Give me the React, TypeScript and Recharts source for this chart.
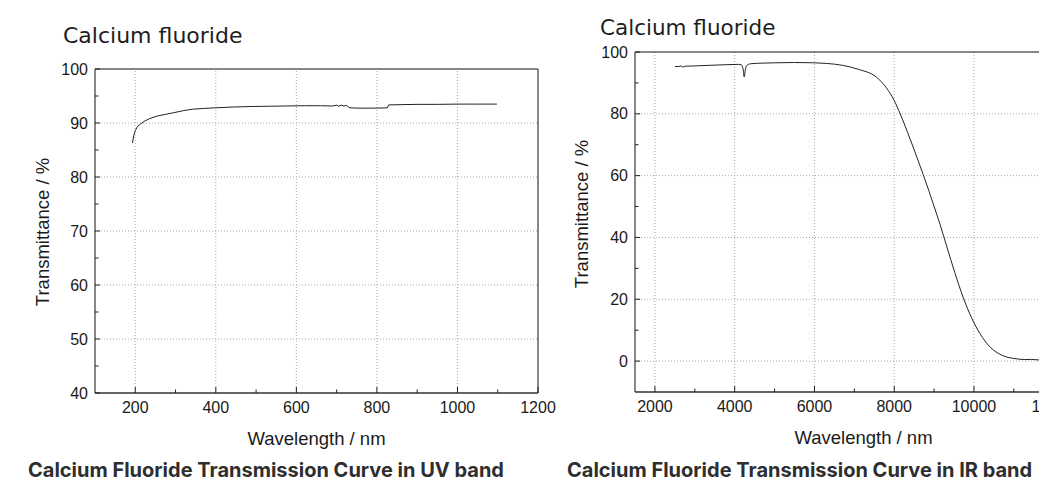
import React from 'react';
import { LineChart, Line, XAxis, YAxis, ReferenceLine } from 'recharts';

// ---------- UV band data ----------
const uvWavelength = [193, 196, 200, 206, 213, 222, 235, 255, 275, 295, 320, 342, 370, 396, 440, 485, 530, 574, 620, 660, 690, 700, 705, 712, 718, 724, 729, 733, 760, 790, 826, 829, 860, 900, 950, 1000, 1050, 1098];
const uvTransmittance = [86.3, 87.6, 88.6, 89.4, 89.8, 90.3, 90.8, 91.3, 91.6, 91.9, 92.3, 92.55, 92.7, 92.8, 92.95, 93.05, 93.1, 93.15, 93.2, 93.2, 93.15, 93.3, 93.1, 93.3, 93.15, 93.25, 93.0, 92.8, 92.75, 92.75, 92.8, 93.35, 93.4, 93.45, 93.45, 93.5, 93.5, 93.5];
const uvXMajor = [200, 400, 600, 800, 1000, 1200];
const uvXMinor = [300, 500, 700, 900, 1100];
const uvYMajor = [40, 50, 60, 70, 80, 90, 100];
const uvYMinor = [45, 55, 65, 75, 85, 95];
const uvGridX = [200, 400, 600, 800, 1000];
const uvGridY = [50, 60, 70, 80, 90];

// ---------- IR band data ----------
const irWavelength = [2500, 2600, 2660, 2700, 2760, 3000, 3400, 3800, 4100, 4170, 4210, 4240, 4265, 4300, 4400, 4700, 5000, 5500, 6000, 6300, 6700, 7100, 7550, 7800, 8000, 8150, 8400, 8650, 8770, 8980, 9150, 9315, 9520, 9730, 9940, 10150, 10400, 10700, 11000, 11150, 11300, 11450, 11600, 11800, 12000];
const irTransmittance = [95.3, 95.3, 95.5, 95.1, 95.4, 95.5, 95.7, 95.9, 96.0, 95.8, 94.5, 91.9, 94.2, 95.6, 96.2, 96.4, 96.5, 96.6, 96.5, 96.3, 95.7, 94.4, 91.9, 88.5, 84.3, 80.0, 71.8, 63.1, 58.8, 50.8, 44.2, 37.2, 28.6, 20.6, 14.0, 8.9, 4.6, 1.9, 0.85, 0.6, 0.5, 0.55, 0.4, 0.4, 0.4];
const irXMajor = [2000, 4000, 6000, 8000, 10000, 12000];
const irXMinor = [3000, 5000, 7000, 9000, 11000];
const irYMajor = [0, 20, 40, 60, 80, 100];
const irYMinor = [10, 30, 50, 70, 90];
const irGridX = [2000, 4000, 6000, 8000, 10000, 12000];
const irGridY = [0, 20, 40, 60, 80];

const chartTitle = 'Calcium fluoride';
const xTitle = 'Wavelength / nm';
const yTitle = 'Transmittance / %';
const uvCaption = 'Calcium Fluoride Transmission Curve in UV band';
const irCaption = 'Calcium Fluoride Transmission Curve in IR band';

const uvData = uvWavelength.map((w, i) => ({ w, t: uvTransmittance[i] }));
const irData = irWavelength.map((w, i) => ({ w, t: irTransmittance[i] }));

const TICK_FONT = '"Liberation Sans", Arial, sans-serif';
const TICK_COLOR = '#1a1a1a';
const GRID_COLOR = '#a8a8a8';

const makeXTick = (majors: number[]) => (props: any) => {
  const { x, y, payload } = props;
  const isMajor = majors.includes(payload.value);
  return (
    <g>
      <line x1={x} x2={x} y1={y} y2={y - (isMajor ? 6 : 3.5)} stroke="#222" strokeWidth={1} />
      {isMajor && (
        <text x={x} y={y + 9} dy="0.71em" textAnchor="middle" fontFamily={TICK_FONT} fontSize={16} fill={TICK_COLOR}>
          {payload.value}
        </text>
      )}
    </g>
  );
};

const makeYTick = (majors: number[]) => (props: any) => {
  const { x, y, payload } = props;
  const isMajor = majors.includes(payload.value);
  return (
    <g>
      <line x1={x} x2={x + (isMajor ? 5 : 3.5)} y1={y} y2={y} stroke="#222" strokeWidth={1} />
      {isMajor && (
        <text x={x - 7} y={y} dy="0.355em" textAnchor="end" fontFamily={TICK_FONT} fontSize={16} fill={TICK_COLOR}>
          {payload.value}
        </text>
      )}
    </g>
  );
};

const gridLines = (xs: number[], ys: number[]) => [
  ...xs.map((v) => (
    <ReferenceLine key={'gx' + v} x={v} stroke={GRID_COLOR} strokeDasharray="1 2" strokeWidth={1} />
  )),
  ...ys.map((v) => (
    <ReferenceLine key={'gy' + v} y={v} stroke={GRID_COLOR} strokeDasharray="1 2" strokeWidth={1} />
  )),
];

export default function App() {
  return (
    <div style={{ position: 'absolute', left: 0, top: 0, width: 1059, height: 498, background: '#fff', overflow: 'hidden' }}>
      {/* UV chart */}
      <div style={{ position: 'absolute', left: 0, top: 0 }}>
        <LineChart width={560} height={423} data={uvData} margin={{ top: 69, right: 22, bottom: 0, left: 0 }}>
          {gridLines(uvGridX, uvGridY)}
          <ReferenceLine y={100} stroke="#111" strokeWidth={1} />
          <ReferenceLine x={1200} stroke="#111" strokeWidth={1} />
          <XAxis
            dataKey="w"
            type="number"
            domain={[100, 1200]}
            ticks={[...uvXMajor, ...uvXMinor]}
            interval={0}
            height={30}
            tickSize={0}
            tickMargin={0}
            tickLine={false}
            axisLine={{ stroke: '#333', strokeWidth: 1.6 }}
            tick={makeXTick(uvXMajor)}
            allowDataOverflow
          />
          <YAxis
            type="number"
            domain={[40, 100]}
            ticks={[...uvYMajor, ...uvYMinor]}
            interval={0}
            width={95}
            tickSize={0}
            tickMargin={0}
            tickLine={false}
            axisLine={{ stroke: '#111', strokeWidth: 1 }}
            tick={makeYTick(uvYMajor)}
            allowDataOverflow
          />
          <Line type="linear" dataKey="t" stroke="#222" strokeWidth={1} dot={false} isAnimationActive={false} />
        </LineChart>
      </div>

      {/* IR chart (clipped on the right like the reference) */}
      <div style={{ position: 'absolute', left: 560, top: 0, width: 479, height: 430, overflow: 'hidden' }}>
        <LineChart width={560} height={422} data={irData} margin={{ top: 52, right: 26.4, bottom: 0, left: 0 }}>
          {gridLines(irGridX, irGridY)}
          <ReferenceLine y={100} stroke="#111" strokeWidth={1} />
          <ReferenceLine x={13000} stroke="#111" strokeWidth={1} />
          <XAxis
            dataKey="w"
            type="number"
            domain={[1500, 13000]}
            ticks={[...irXMajor, ...irXMinor]}
            interval={0}
            height={30}
            tickSize={0}
            tickMargin={0}
            tickLine={false}
            axisLine={{ stroke: '#333', strokeWidth: 1.6 }}
            tick={makeXTick(irXMajor)}
            allowDataOverflow
          />
          <YAxis
            type="number"
            domain={[-10, 100]}
            ticks={[...irYMajor, ...irYMinor]}
            interval={0}
            width={75}
            tickSize={0}
            tickMargin={0}
            tickLine={false}
            axisLine={{ stroke: '#111', strokeWidth: 1 }}
            tick={makeYTick(irYMajor)}
            allowDataOverflow
          />
          <Line type="monotone" dataKey="t" stroke="#222" strokeWidth={1} dot={false} isAnimationActive={false} />
        </LineChart>
      </div>

      {/* Text overlay */}
      <svg width={1059} height={498} style={{ position: 'absolute', left: 0, top: 0, pointerEvents: 'none' }}>
        <text x={63} y={42.5} fontFamily='"DejaVu Sans", sans-serif' fontSize={22} fill="#1e1e1e">{chartTitle}</text>
        <text x={600} y={35} fontFamily='"DejaVu Sans", sans-serif' fontSize={21.5} fill="#1e1e1e">{chartTitle}</text>

        <text x={316.5} y={444.5} textAnchor="middle" fontFamily={TICK_FONT} fontSize={18.5} fill={TICK_COLOR}>{xTitle}</text>
        <text x={863.5} y={443.5} textAnchor="middle" fontFamily={TICK_FONT} fontSize={18.5} fill={TICK_COLOR}>{xTitle}</text>

        <text transform="translate(49,232) rotate(-90)" textAnchor="middle" fontFamily={TICK_FONT} fontSize={18.5} fill={TICK_COLOR}>{yTitle}</text>
        <text transform="translate(588,214) rotate(-90)" textAnchor="middle" fontFamily={TICK_FONT} fontSize={18.5} fill={TICK_COLOR}>{yTitle}</text>

        <text x={28} y={477} fontFamily='Inter, "Noto Sans", sans-serif' fontWeight={700} fontSize={20} fill="#2e2e2e">{uvCaption}</text>
        <text x={567} y={477} fontFamily='Inter, "Noto Sans", sans-serif' fontWeight={700} fontSize={20} fill="#2e2e2e">{irCaption}</text>
      </svg>
    </div>
  );
}
